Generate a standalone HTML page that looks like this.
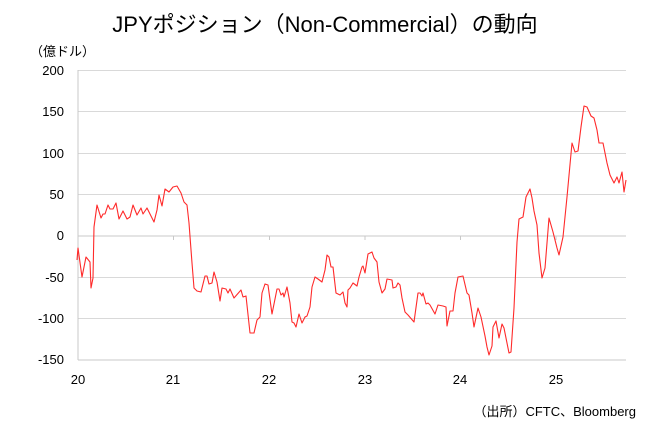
<!DOCTYPE html>
<html><head><meta charset="utf-8"><style>
body{margin:0;background:#fff;}
svg text{font-family:"Liberation Sans","Noto Sans CJK JP",sans-serif;fill:#000;}
</style></head><body>
<svg width="650" height="433" viewBox="0 0 650 433" xmlns="http://www.w3.org/2000/svg">
<rect width="650" height="433" fill="#fff"/>
<text x="325" y="32" font-size="22" text-anchor="middle">JPYポジション（Non-Commercial）の動向</text>
<text x="30" y="56" font-size="13">（億ドル）</text>
<g stroke="#d9d9d9" stroke-width="1">
<line x1="78" y1="70.5" x2="626" y2="70.5"/>
<line x1="78" y1="111.5" x2="626" y2="111.5"/>
<line x1="78" y1="153.5" x2="626" y2="153.5"/>
<line x1="78" y1="194.5" x2="626" y2="194.5"/>
<line x1="78" y1="277.5" x2="626" y2="277.5"/>
<line x1="78" y1="318.5" x2="626" y2="318.5"/>
</g>
<g stroke="#c8c8c8" stroke-width="1">
<line x1="78" y1="236" x2="626" y2="236"/>
<line x1="78" y1="360" x2="626" y2="360"/>
<line x1="78" y1="70" x2="78" y2="360"/>
<line x1="173.5" y1="236" x2="173.5" y2="240"/>
<line x1="269.5" y1="236" x2="269.5" y2="240"/>
<line x1="365" y1="236" x2="365" y2="240"/>
<line x1="460.5" y1="236" x2="460.5" y2="240"/>
<line x1="556" y1="236" x2="556" y2="240"/>
</g>
<g font-size="13" text-anchor="end">
<text x="64" y="75">200</text><text x="64" y="116">150</text><text x="64" y="158">100</text>
<text x="64" y="199">50</text><text x="64" y="240">0</text><text x="64" y="282">-50</text>
<text x="64" y="323">-100</text><text x="64" y="364">-150</text>
</g>
<g font-size="13" text-anchor="middle">
<text x="78" y="384">20</text><text x="173" y="384">21</text><text x="269" y="384">22</text>
<text x="365" y="384">23</text><text x="460" y="384">24</text><text x="556" y="384">25</text>
</g>
<text x="636" y="416" font-size="13" text-anchor="end">（出所）CFTC、Bloomberg</text>
<polyline fill="none" stroke="#ff2a2a" stroke-width="1.1" stroke-linejoin="round" points="77,260 78,248 82,277 86,257 90,262 91,288 93,278 94,227 97,205 101,218 103,214 105,214 108,205 110,209 113,209 116,203 119,219 123,211 127,219 130,217 133,205 137,215 141,208 143,214 147,208 150,214 154,222 157,210 159,195 162,206 165,189 169,192 173,187 177,186 181,193 184,202 187,205 189,223 192,263 194,288 197,291 201,292 205,276 207,276 209,284 212,283 214,272 217,282 220,301 222,288 226,289 228,293 230,289 234,298 241,290 243,297 246,296 250,333 254,333 257,320 260,317 262,293 265,284 268,285 272,314 277,289 279,289 281,295 283,293 284,297 287,287 290,303 292,322 294,323 296,327 299,314 302,323 305,317 307,316 310,307 312,287 315,277 318,279 322,282 325,270 327,255 329,257 331,267 333,267 336,293 340,295 343,292 345,303 347,307 348,290 350,288 353,283 357,286 359,277 362,267 363,266 365,273 368,254 372,252 374,258 377,262 379,282 382,293 385,289 387,279 392,280 393,288 396,287 398,283 400,285 402,298 405,312 408,315 414,322 418,293 420,293 422,296 423,293 426,304 428,303 430,305 435,314 438,305 443,306 446,307 447,326 450,311 453,311 455,293 458,277 463,276 467,293 469,295 472,313 474,327 478,308 481,317 485,336 487,347 489,355 492,346 493,327 496,321 499,338 502,324 504,328 509,353 511,352 514,308 517,242 519,219 523,217 526,197 530,189 532,198 534,211 537,225 539,253 542,278 545,268 549,218 553,232 557,248 559,255 563,237 567,197 572,143 575,152 578,151 581,127 584,106 587,107 591,116 594,118 597,130 599,143 603,143 607,163 610,175 614,183 617,177 619,183 622,172 624,192 626,180"/>
</svg>
</body></html>
